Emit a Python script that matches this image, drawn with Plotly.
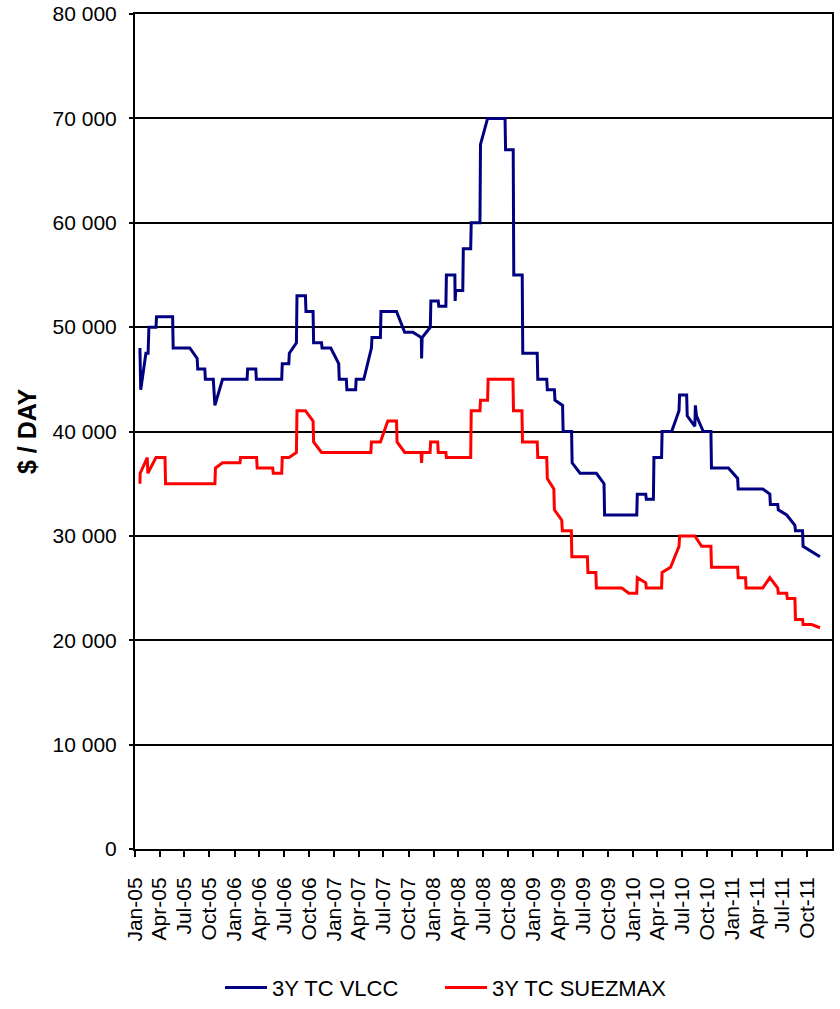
import plotly.graph_objects as go

# ---------------- data ----------------
vlcc_dates = [
    "2005-01-19", "2005-01-22", "2005-02-10", "2005-02-18", "2005-02-21", "2005-03-19",
    "2005-03-21", "2005-05-19", "2005-05-21", "2005-07-21", "2005-08-17", "2005-08-19",
    "2005-09-14", "2005-09-16", "2005-10-15", "2005-10-21", "2005-11-18", "2006-02-16",
    "2006-02-18", "2006-03-20", "2006-03-22", "2006-06-23", "2006-06-25", "2006-07-19",
    "2006-07-21", "2006-08-16", "2006-08-18", "2006-09-18", "2006-09-20", "2006-10-16",
    "2006-10-18", "2006-11-16", "2006-11-18", "2006-12-20", "2007-01-18", "2007-01-20",
    "2007-02-15", "2007-02-17", "2007-03-21", "2007-03-23", "2007-04-20", "2007-05-18",
    "2007-05-20", "2007-06-20", "2007-06-22", "2007-08-18", "2007-09-17", "2007-10-17",
    "2007-11-17", "2007-11-18", "2007-11-20", "2007-12-20", "2007-12-22", "2008-01-18",
    "2008-01-20", "2008-02-15", "2008-02-17", "2008-03-19", "2008-03-20", "2008-03-22",
    "2008-04-17", "2008-04-19", "2008-05-16", "2008-05-18", "2008-06-19", "2008-06-21",
    "2008-07-17", "2008-09-19", "2008-09-21", "2008-10-19", "2008-10-21", "2008-11-21",
    "2008-11-23", "2009-01-15", "2009-01-17", "2009-02-19", "2009-02-21", "2009-03-19",
    "2009-03-21", "2009-04-18", "2009-04-20", "2009-05-21", "2009-05-23", "2009-06-21",
    "2009-08-20", "2009-09-17", "2009-09-19", "2010-01-15", "2010-01-17", "2010-02-17",
    "2010-02-19", "2010-03-17", "2010-03-19", "2010-04-16", "2010-04-18", "2010-05-23",
    "2010-06-19", "2010-06-21", "2010-07-17", "2010-07-19", "2010-08-16", "2010-08-18",
    "2010-08-22", "2010-09-16", "2010-10-14", "2010-10-16", "2010-12-17", "2011-01-20",
    "2011-01-22", "2011-04-22", "2011-05-18", "2011-05-20", "2011-06-16", "2011-06-18",
    "2011-07-19", "2011-08-18", "2011-08-20", "2011-09-15", "2011-09-17", "2011-11-18",
]
vlcc_values = [
    48000, 44000, 47500, 47500, 50000, 50000,
    51000, 51000, 48000, 48000, 47000, 46000,
    46000, 45000, 45000, 42500, 45000, 45000,
    46000, 46000, 45000, 45000, 46500, 46500,
    47500, 48500, 53000, 53000, 51500, 51500,
    48500, 48500, 48000, 48000, 46500, 45000,
    45000, 44000, 44000, 45000, 45000, 48000,
    49000, 49000, 51500, 51500, 49500, 49500,
    49000, 47000, 49000, 50000, 52500, 52500,
    52000, 52000, 55000, 55000, 52500, 53500,
    53500, 57500, 57500, 60000, 60000, 67500,
    70000, 70000, 67000, 67000, 55000, 55000,
    47500, 47500, 45000, 45000, 44000, 44000,
    43000, 42500, 40000, 40000, 37000, 36000,
    36000, 35000, 32000, 32000, 34000, 34000,
    33500, 33500, 37500, 37500, 40000, 40000,
    42000, 43500, 43500, 41500, 40500, 42500,
    41500, 40000, 40000, 36500, 36500, 35500,
    34500, 34500, 34000, 33000, 33000, 32500,
    32000, 31000, 30500, 30500, 29000, 28000,
]

suez_dates = [
    "2005-01-19", "2005-01-20", "2005-02-15", "2005-02-17", "2005-03-19", "2005-04-21",
    "2005-04-23", "2005-10-21", "2005-10-23", "2005-11-18", "2006-01-21", "2006-01-23",
    "2006-03-23", "2006-03-25", "2006-05-21", "2006-05-23", "2006-06-23", "2006-06-25",
    "2006-07-20", "2006-08-16", "2006-08-18", "2006-09-18", "2006-10-16", "2006-10-18",
    "2006-11-16", "2007-05-16", "2007-05-18", "2007-06-20", "2007-07-17", "2007-08-18",
    "2007-08-20", "2007-09-17", "2007-11-16", "2007-11-18", "2007-11-20", "2007-12-19",
    "2007-12-21", "2008-01-16", "2008-01-18", "2008-02-15", "2008-02-17", "2008-05-16",
    "2008-05-18", "2008-06-19", "2008-06-21", "2008-07-17", "2008-07-19", "2008-10-18",
    "2008-10-20", "2008-11-20", "2008-11-22", "2009-01-15", "2009-01-17", "2009-02-19",
    "2009-02-21", "2009-03-17", "2009-03-19", "2009-04-15", "2009-04-17", "2009-05-20",
    "2009-05-22", "2009-07-18", "2009-07-20", "2009-08-18", "2009-08-20", "2009-11-21",
    "2009-12-17", "2010-01-15", "2010-01-17", "2010-02-17", "2010-02-19", "2010-04-16",
    "2010-04-18", "2010-05-19", "2010-06-19", "2010-06-21", "2010-08-16", "2010-09-10",
    "2010-10-14", "2010-10-16", "2011-01-20", "2011-01-22", "2011-02-18", "2011-02-20",
    "2011-04-22", "2011-05-18", "2011-06-16", "2011-06-18", "2011-07-19", "2011-07-21",
    "2011-08-18", "2011-08-20", "2011-09-15", "2011-09-17", "2011-10-18", "2011-11-18",
]
suez_values = [
    35000, 36000, 37500, 36000, 37500, 37500,
    35000, 35000, 36500, 37000, 37000, 37500,
    37500, 36500, 36500, 36000, 36000, 37500,
    37500, 38000, 42000, 42000, 41000, 39000,
    38000, 38000, 39000, 39000, 41000, 41000,
    39000, 38000, 38000, 37000, 38000, 38000,
    39000, 39000, 38000, 38000, 37500, 37500,
    42000, 42000, 43000, 43000, 45000, 45000,
    42000, 42000, 39000, 39000, 37500, 37500,
    35500, 34500, 32500, 31500, 30500, 30500,
    28000, 28000, 26500, 26500, 25000, 25000,
    24500, 24500, 26000, 25500, 25000, 25000,
    26500, 27000, 29000, 30000, 30000, 29000,
    29000, 27000, 27000, 26000, 26000, 25000,
    25000, 26000, 25000, 24500, 24500, 24000,
    24000, 22000, 22000, 21500, 21500, 21200,
]

series_names = ["3Y TC VLCC", "3Y TC SUEZMAX"]

x_tick_vals = [
    "2005-01-01", "2005-04-01", "2005-07-01", "2005-10-01",
    "2006-01-01", "2006-04-01", "2006-07-01", "2006-10-01",
    "2007-01-01", "2007-04-01", "2007-07-01", "2007-10-01",
    "2008-01-01", "2008-04-01", "2008-07-01", "2008-10-01",
    "2009-01-01", "2009-04-01", "2009-07-01", "2009-10-01",
    "2010-01-01", "2010-04-01", "2010-07-01", "2010-10-01",
    "2011-01-01", "2011-04-01", "2011-07-01", "2011-10-01",
]
x_tick_text = [
    "Jan-05", "Apr-05", "Jul-05", "Oct-05",
    "Jan-06", "Apr-06", "Jul-06", "Oct-06",
    "Jan-07", "Apr-07", "Jul-07", "Oct-07",
    "Jan-08", "Apr-08", "Jul-08", "Oct-08",
    "Jan-09", "Apr-09", "Jul-09", "Oct-09",
    "Jan-10", "Apr-10", "Jul-10", "Oct-10",
    "Jan-11", "Apr-11", "Jul-11", "Oct-11",
]
y_tick_vals = [0, 10000, 20000, 30000, 40000, 50000, 60000, 70000, 80000]
y_tick_text = ["0", "10 000", "20 000", "30 000", "40 000", "50 000", "60 000", "70 000", "80 000"]

# ---------------- figure ----------------
FONT = "Liberation Sans, Arial, sans-serif"
LEGEND_FONT = dict(family=FONT, size=22, color="black")

fig = go.Figure()
fig.add_trace(go.Scatter(
    x=vlcc_dates, y=vlcc_values, mode="lines", name=series_names[0],
    line=dict(color="#000080", width=3), legend="legend",
))
fig.add_trace(go.Scatter(
    x=suez_dates, y=suez_values, mode="lines", name=series_names[1],
    line=dict(color="#FF0000", width=3), legend="legend2",
))

fig.update_layout(
    width=840, height=1009,
    margin=dict(l=135, r=8, t=14, b=160, autoexpand=False),
    paper_bgcolor="white", plot_bgcolor="white",
    font=dict(family=FONT, size=21, color="black"),
    showlegend=True,
    legend=dict(
        orientation="h", x=0.122, xanchor="left", y=-0.166, yanchor="middle",
        font=LEGEND_FONT, itemwidth=42, bgcolor="rgba(0,0,0,0)",
    ),
    legend2=dict(
        orientation="h", x=0.4376, xanchor="left", y=-0.166, yanchor="middle",
        font=LEGEND_FONT, itemwidth=42, bgcolor="rgba(0,0,0,0)",
    ),
)

fig.update_xaxes(
    type="date", range=["2005-01-01", "2012-01-01"],
    tickmode="array", tickvals=x_tick_vals, ticktext=x_tick_text,
    tickangle=-90, ticks="outside", ticklen=6, tickwidth=1.5, tickcolor="black",
    ticklabelstandoff=12,
    showline=True, linecolor="black", linewidth=2, mirror=True,
    showgrid=False, zeroline=False,
    tickfont=dict(family=FONT, size=21, color="black"),
)
fig.update_yaxes(
    range=[0, 80000],
    tickmode="array", tickvals=y_tick_vals, ticktext=y_tick_text,
    ticks="outside", ticklen=4, tickwidth=1.5, tickcolor="black",
    ticklabelstandoff=8,
    showline=True, linecolor="black", linewidth=2, mirror=True,
    showgrid=True, gridcolor="black", gridwidth=1.5, zeroline=False,
    tickfont=dict(family=FONT, size=21, color="black"),
    title=dict(text="<b>$ / DAY</b>", font=dict(family=FONT, size=25, color="black"), standoff=9),
)

# remove the default 8px page margin so the figure sits at the window origin
fig.write_html(
    "out.html",
    config={"displayModeBar": False},
    post_script="document.body.style.margin='0';",
)
